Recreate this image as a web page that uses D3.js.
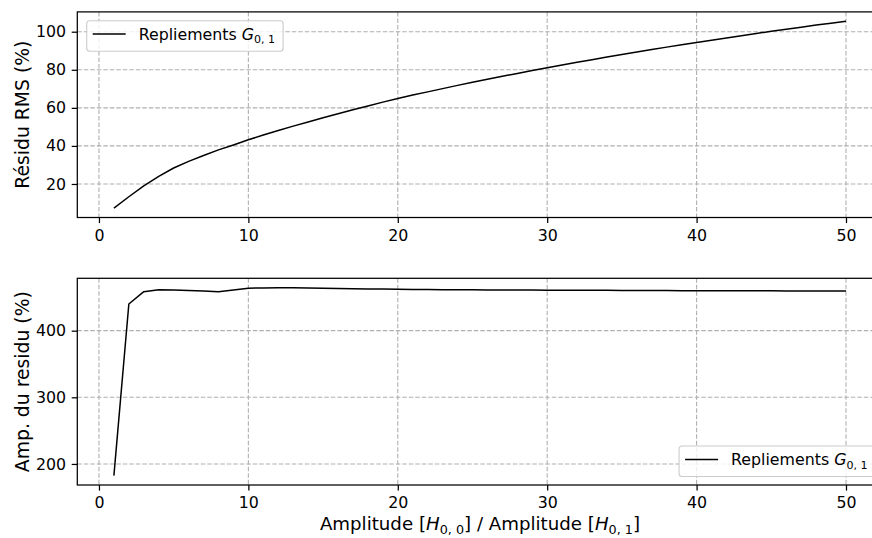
<!DOCTYPE html>
<html>
<head>
<meta charset="utf-8">
<script src="https://cdn.jsdelivr.net/npm/d3@7"></script>
<style>
  html, body { margin: 0; padding: 0; background: #fff; }
  svg { display: block; font-family: "DejaVu Sans", sans-serif; }
</style>
</head>
<body>
<svg id="chart" width="872" height="538"></svg>
<script>
// ---------------- DATA ----------------
const ratio = d3.range(1, 51); // Amplitude[H00] / Amplitude[H01]: 1..50
const residuRMS = [
  7.3, 13.3, 19.0, 24.0, 28.4, 31.9, 35.0, 37.9, 40.5, 43.2,
  45.7, 48.1, 50.4, 52.6, 54.8, 56.9, 59.0, 61.0, 63.0, 64.9,
  66.7, 68.4, 70.1, 71.8, 73.4, 75.0, 76.6, 78.1, 79.6, 81.1,
  82.5, 83.9, 85.3, 86.7, 88.0, 89.3, 90.6, 91.9, 93.1, 94.3,
  95.5, 96.7, 97.9, 99.1, 100.2, 101.3, 102.4, 103.5, 104.5, 105.5
];
const ampResidu = [
  182.5, 440.0, 458.5, 461.5, 461.0, 460.3, 459.7, 458.5, 461.2, 463.8,
  464.2, 464.5, 464.3, 464.0, 463.7, 463.4, 463.1, 462.7, 462.4, 462.1,
  461.9, 461.7, 461.6, 461.4, 461.3, 461.2, 461.1, 461.0, 460.9, 460.8,
  460.7, 460.6, 460.5, 460.5, 460.4, 460.3, 460.2, 460.2, 460.1, 460.0,
  460.0, 459.9, 459.9, 459.8, 459.8, 459.7, 459.7, 459.6, 459.6, 459.5
];
const xTicks = [0, 10, 20, 30, 40, 50];
const topYTicks = [20, 40, 60, 80, 100];
const botYTicks = [200, 300, 400];
const seriesName = "Repliements ";
const topYLabel = "Résidu RMS (%)";
const botYLabel = "Amp. du residu (%)";

// ---------------- LAYOUT ----------------
const svg = d3.select("#chart");
const FONT = 15.8, LABEL_FONT = 18.8, XLABEL_FONT = 18.2;
const axLeft = 77.3, axRight = 882.6;
const panels = [
  { top: 11.9, bottom: 217.5, values: residuRMS, yTicks: topYTicks, label: topYLabel, legend: "upper left" },
  { top: 278.3, bottom: 485.0, values: ampResidu, yTicks: botYTicks, label: botYLabel, legend: "lower right" }
];

function padded(ext) {
  const m = (ext[1] - ext[0]) * 0.05;
  return [ext[0] - m, ext[1] + m];
}

const x = d3.scaleLinear().domain(padded(d3.extent(ratio))).range([axLeft, axRight]);

function legendText(sel, x0, y0) {
  const t = sel.append("text").attr("x", x0).attr("y", y0)
    .attr("font-size", FONT).attr("fill", "#000");
  t.append("tspan").text(seriesName);
  t.append("tspan").attr("font-style", "italic").text("G");
  t.append("tspan").attr("font-size", FONT * 0.7).attr("dy", 3.3).text("0, 1");
  return t;
}

panels.forEach((p, i) => {
  const y = d3.scaleLinear().domain(padded(d3.extent(p.values))).range([p.bottom, p.top]);
  const g = svg.append("g");
  const clipId = "clip" + i;
  svg.append("clipPath").attr("id", clipId).append("rect")
    .attr("x", axLeft).attr("y", p.top).attr("width", axRight - axLeft).attr("height", p.bottom - p.top);

  // grid
  const grid = g.append("g").attr("stroke", "#b0b0b0").attr("stroke-width", 1.1)
    .attr("stroke-dasharray", "4.5,2");
  grid.selectAll(".vx").data(xTicks).join("line")
    .attr("x1", d => x(d)).attr("x2", d => x(d)).attr("y1", p.top).attr("y2", p.bottom);
  grid.selectAll(".hy").data(p.yTicks).join("line")
    .attr("x1", axLeft).attr("x2", axRight).attr("y1", d => y(d)).attr("y2", d => y(d));

  // line
  g.append("path").datum(ratio.map((r, k) => [r, p.values[k]]))
    .attr("clip-path", `url(#${clipId})`)
    .attr("fill", "none").attr("stroke", "#000").attr("stroke-width", 1.5)
    .attr("stroke-linejoin", "round")
    .attr("d", d3.line().x(d => x(d[0])).y(d => y(d[1])));

  // axes
  const xa = g.append("g").attr("transform", `translate(0,${p.bottom})`)
    .call(d3.axisBottom(x).tickValues(xTicks).tickFormat(d3.format("d")).tickSize(5.6).tickPadding(6.5));
  const ya = g.append("g").attr("transform", `translate(${axLeft},0)`)
    .call(d3.axisLeft(y).tickValues(p.yTicks).tickFormat(d3.format("d")).tickSize(5.6).tickPadding(5.6));
  [xa, ya].forEach(a => {
    a.select(".domain").remove();
    a.selectAll("line").attr("stroke", "#000").attr("stroke-width", 1.25);
    a.selectAll("text").attr("font-size", FONT).attr("font-family", "DejaVu Sans").attr("fill", "#000");
  });

  // spines
  g.append("rect").attr("x", axLeft).attr("y", p.top)
    .attr("width", axRight - axLeft).attr("height", p.bottom - p.top)
    .attr("fill", "none").attr("stroke", "#000").attr("stroke-width", 1.25);

  // y label
  g.append("text")
    .attr("transform", `translate(29,${(p.top + p.bottom) / 2}) rotate(-90)`)
    .attr("text-anchor", "middle").attr("font-size", LABEL_FONT).attr("fill", "#000")
    .text(p.label);

  // legend
  const lg = g.append("g");
  const box = lg.append("rect").attr("rx", 3).attr("ry", 3)
    .attr("fill", "#fff").attr("fill-opacity", 0.8).attr("stroke", "#cccccc").attr("stroke-width", 1.1);
  const lineLen = 33, gap = 13, padL = 6, padR = 8, h = 30.5;
  const tmp = legendText(lg, 0, 0);
  const tw = tmp.node().getBBox().width;
  tmp.remove();
  const w = padL + lineLen + gap + tw + padR;
  let bx, by;
  if (p.legend === "upper left") { bx = 86.7; by = 20.7; }
  else { bx = 875.5 - w; by = 446.0; }
  box.attr("x", bx).attr("y", by).attr("width", w).attr("height", h);
  lg.append("line").attr("x1", bx + padL).attr("x2", bx + padL + lineLen)
    .attr("y1", by + 13.4).attr("y2", by + 13.4).attr("stroke", "#000").attr("stroke-width", 1.5);
  legendText(lg, bx + padL + lineLen + gap, by + 19.3);
});

// x label
const xl = svg.append("text").attr("x", (axLeft + axRight) / 2).attr("y", 530)
  .attr("text-anchor", "middle").attr("font-size", XLABEL_FONT).attr("fill", "#000");
xl.append("tspan").text("Amplitude [");
xl.append("tspan").attr("font-style", "italic").text("H");
xl.append("tspan").attr("font-size", XLABEL_FONT * 0.7).attr("dy", 4).text("0, 0");
xl.append("tspan").attr("dy", -4).text("] / Amplitude [");
xl.append("tspan").attr("font-style", "italic").text("H");
xl.append("tspan").attr("font-size", XLABEL_FONT * 0.7).attr("dy", 4).text("0, 1");
xl.append("tspan").attr("dy", -4).text("]");
</script>
</body>
</html>
